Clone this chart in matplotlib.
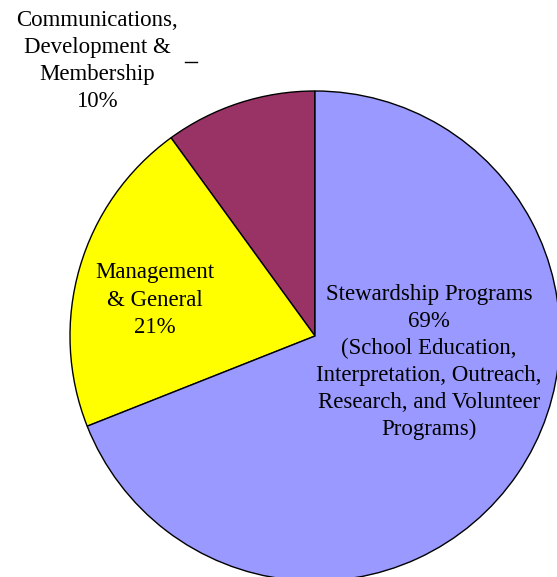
import matplotlib.pyplot as plt

# data
labels = ['Communications,\nDevelopment &\nMembership\n10%',
          'Management\n& General\n21%',
          'Stewardship Programs\n69%\n(School Education,\nInterpretation, Outreach,\nResearch, and Volunteer\nPrograms)']
shares = [10, 21, 69]
colors = ['#993366', '#FFFF00', '#9999FF']

W, H = 557, 577
fig = plt.figure(figsize=(W / 100, H / 100), dpi=100)
ax = fig.add_axes([0, 0, 1, 1])

# pie centre/radius in pixel units (y measured upward)
cx, cy, r = 315, H - 336, 245
ax.pie(shares, colors=colors, startangle=90, counterclock=True,
       center=(cx, cy), radius=r,
       wedgeprops=dict(edgecolor='black', linewidth=1))
ax.set_xlim(0, W)
ax.set_ylim(0, H)
ax.set_aspect('equal')
ax.axis('off')

font = dict(family='Liberation Serif', fontsize=16.5, ha='center', va='center',
            linespacing=1.38)
ax.text(97, H - 61, labels[0], **font)
ax.text(155, H - 300, labels[1], **font)
ax.text(429, H - 362, labels[2], **font)

# leader stub next to the small slice label
ax.plot([185, 197], [H - 62, H - 62], color='black', linewidth=1)

fig.savefig('out.png', dpi=100)
